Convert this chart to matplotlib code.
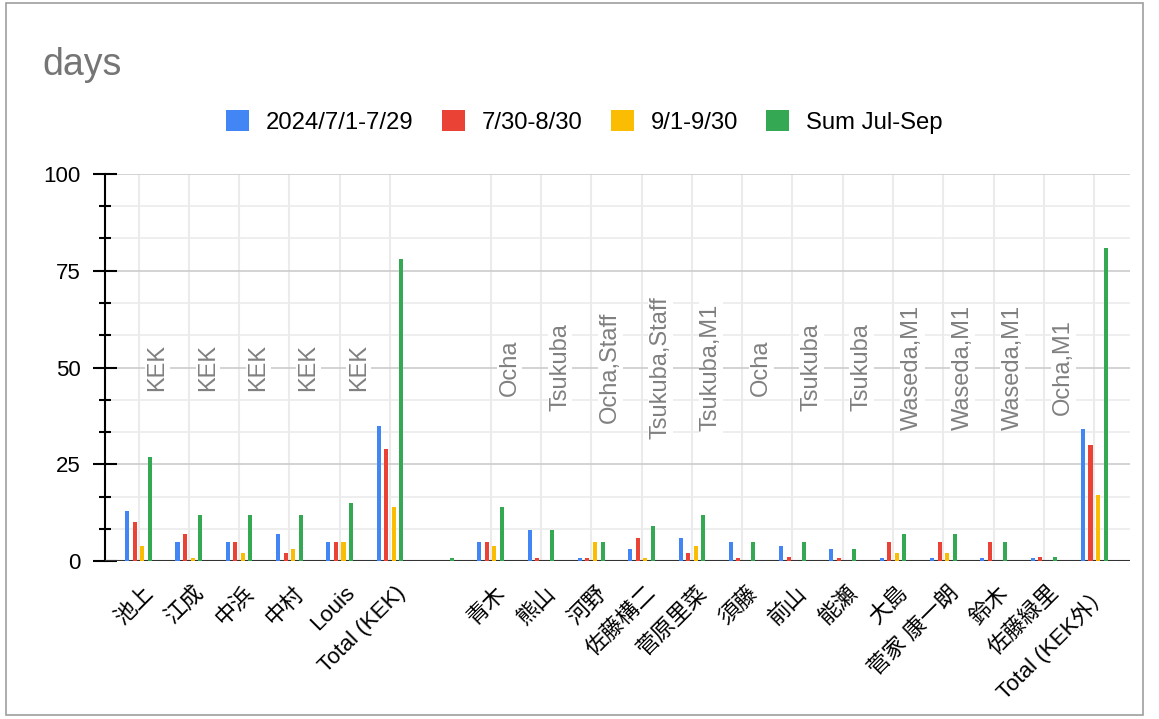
import numpy as np
import matplotlib
matplotlib.use('Agg')
import matplotlib.pyplot as plt
from matplotlib.patches import Patch, Rectangle
from matplotlib.ticker import MultipleLocator
from matplotlib.transforms import ScaledTranslation

plt.rcParams['font.family'] = ['Liberation Sans', 'Noto Sans CJK JP']

# データ
categories = ['池上', '江成', '中浜', '中村', 'Louis', 'Total (KEK)', '',
              '青木', '熊山', '河野', '佐藤構二', '菅原里菜', '須藤', '前山', '能瀬',
              '大島', '菅家 康一朗', '鈴木', '佐藤緑里', 'Total (KEK外）']
affiliations = ['KEK', 'KEK', 'KEK', 'KEK', 'KEK', '', '',
                'Ocha', 'Tsukuba', 'Ocha,Staff', 'Tsukuba,Staff', 'Tsukuba,M1', 'Ocha',
                'Tsukuba', 'Tsukuba', 'Waseda,M1', 'Waseda,M1', 'Waseda,M1', 'Ocha,M1', '']
series_names = ['2024/7/1-7/29', '7/30-8/30', '9/1-9/30', 'Sum Jul-Sep']
nan = np.nan
jul = [13, 5, 5, 7, 5, 35, nan, 5, 8, 0, 3, 6, 5, 4, 3, 0, 0, 0, 0, 34]
aug = [10, 7, 5, 2, 5, 29, nan, 5, 0, 0, 6, 2, 0, 1, 0, 5, 5, 5, 1, 30]
sep = [4, 0, 2, 3, 5, 14, nan, 4, nan, 5, 0, 4, nan, nan, nan, 2, 2, nan, nan, 17]
total = [27, 12, 12, 12, 15, 78, 0, 14, 8, 5, 9, 12, 5, 5, 3, 7, 7, 5, 1, 81]

colors = ['#4285f4', '#ea4335', '#fbbc04', '#34a853']
offsets = [-0.225, -0.075, 0.075, 0.225]

W, H = 1159, 719
fig = plt.figure(figsize=(W / 100, H / 100), dpi=100)
ax = fig.add_axes([105 / W, 1 - 561 / H, (1130 - 105) / W, (561 - 174) / H])

x = np.arange(len(categories))
for vals, off, c in zip([jul, aug, sep, total], offsets, colors):
    v = np.array(vals, dtype=float)
    ok = ~np.isnan(v)
    shown = np.where(v[ok] == 0, 0.7, v[ok])  # 0は細い線で表示
    ax.bar(x[ok] + off, shown, width=0.08, color=c, zorder=5)

# 所属ラベル
for i, a in enumerate(affiliations):
    if a:
        ax.text(i + 0.38, 50, a, rotation=90, ha='center', va='center',
                fontsize=17, color='#808080', zorder=2,
                bbox=dict(facecolor='white', edgecolor='none', pad=1))

ax.set_xlim(-0.666, 19.71)
ax.set_ylim(0, 100)
ax.yaxis.set_major_locator(MultipleLocator(25))
ax.yaxis.set_minor_locator(MultipleLocator(25 / 3))

# x軸ラベル（45度回転）
ticks = [i for i, c in enumerate(categories) if c]
ax.set_xticks(ticks)
ax.set_xticklabels([])
ax.tick_params(axis='x', length=0)
lbl_trans = ax.get_xaxis_transform() + ScaledTranslation(12 / 100, -29 / 100, fig.dpi_scale_trans)
for i in ticks:
    ax.text(i, 0, categories[i], transform=lbl_trans, rotation=45, ha='right',
            va='center', rotation_mode='anchor', fontsize=16, clip_on=False)

ax.tick_params(axis='y', which='major', direction='inout', length=17, width=1.5,
               color='black', labelsize=16, pad=9)
ax.tick_params(axis='y', which='minor', direction='inout', length=8.6, width=1.5,
               color='black')

ax.set_axisbelow(True)
ax.grid(axis='y', which='major', color='#cccccc', lw=1.2)
ax.grid(axis='y', which='minor', color='#ebebeb', lw=1.2)
ax.grid(axis='x', which='major', color='#ebebeb', lw=1.5)

for s in ['top', 'right', 'bottom']:
    ax.spines[s].set_visible(False)
ax.spines['left'].set_linewidth(1.5)
ax.axhline(0, color='#333333', lw=1.5, zorder=4)

# 凡例・タイトル
handles = [Patch(facecolor=c, edgecolor='none') for c in colors]
fig.legend(handles, series_names, loc='center', bbox_to_anchor=(584.5 / W, 1 - 122 / H),
           ncol=4, frameon=False, fontsize=17.2, handlelength=0.95, handleheight=0.95,
           handletextpad=0.7, columnspacing=1.2)
fig.text(42 / W, 1 - 75 / H, 'days', fontsize=27, color='#757575', va='baseline')

# 枠
fig.add_artist(Rectangle((6 / W, 1 - 715 / H), (1143 - 6) / W, (715 - 3) / H,
                         transform=fig.transFigure, fill=False, edgecolor='#9e9e9e', lw=1.2))

fig.savefig('out.png', dpi=100)
